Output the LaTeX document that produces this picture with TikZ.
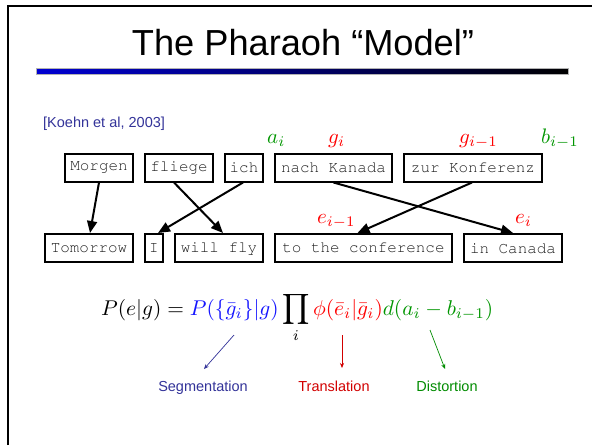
\documentclass[tikz,border=0pt]{standalone}
\usepackage{graphicx}
\usepackage{fontspec}
\setmainfont{Liberation Sans}
\newcommand{\courierfont}{\fontencoding{OT1}\fontfamily{pcr}\selectfont}
\usetikzlibrary{arrows.meta,calc}
\definecolor{kblue}{RGB}{51,51,153}
\definecolor{fblue}{RGB}{20,20,255}
\definecolor{fred}{RGB}{255,0,0}
\definecolor{fgreen}{RGB}{0,150,0}
\definecolor{lred}{RGB}{210,0,0}
\definecolor{lgreen}{RGB}{0,140,0}
\begin{document}
\begin{tikzpicture}[x=1pt,y=-1pt,
  wbox/.style={draw=black,line width=2pt,inner sep=0pt,minimum height=28pt,
    font=\courierfont\fontsize{15.9}{16}\selectfont,text=black!88},
  link/.style={line width=2pt,-{Triangle[length=12pt,width=10pt]}},
  lab/.style={anchor=base west,inner sep=0pt},
  note/.style={line width=0.7pt,-{Stealth[length=5pt,width=4pt]}},
  caplabel/.style={anchor=base,inner sep=0pt,font=\fontsize{14.5}{16}\selectfont}
]
\useasboundingbox (0,0) rectangle (592,445);
\fill[white] (0,0) rectangle (592,445);
\draw[line width=2pt] (7.5,445) -- (7.5,5.5) -- (592,5.5);
% title
\node[font=\fontsize{36.2}{40}\selectfont,inner sep=0pt,anchor=base] (title) at (303,55) {The Pharaoh “Model”};
\shade[left color={rgb,255:red,0;green,0;blue,210},right color=black] (36,68) rectangle (568,74);
\draw[gray!60,line width=0.6pt] (36,68) rectangle (568,74);
% reference
\node[lab,text=kblue,font=\fontsize{14.5}{16}\selectfont] (ref) at (43,127) {[Koehn et al, 2003]};
% German
\node[wbox,minimum width=68pt] (morgen) at (99,167.5) {Morgen};
\node[wbox,minimum width=68pt] (fliege) at (179,167.5) {fliege};
\node[wbox,minimum width=38pt] (ich) at (244,167.5) {ich};
\node[wbox,minimum width=117pt] (nach) at (333.5,167.5) {nach Kanada};
\node[wbox,minimum width=138pt] (zur) at (473,167.5) {zur Konferenz};
% English
\node[wbox,minimum width=88pt] (tomorrow) at (89,248) {Tomorrow};
\node[wbox,minimum width=18pt] (I) at (154,248) {I};
\node[wbox,minimum width=88pt] (willfly) at (219,248) {will fly};
\node[wbox,minimum width=177pt] (conf) at (363.5,248) {to the conference};
\node[wbox,minimum width=98pt] (canada) at (513,248) {in Canada};
% alignment arrows
\draw[link] (morgen.south) -- ([xshift=1pt]tomorrow.north);
\draw[link] ([xshift=-5pt]fliege.south) -- ([xshift=4pt]willfly.north);
\draw[link] ([xshift=-1pt]ich.south) -- ([xshift=4pt]I.north);
\draw[link] (nach.south) -- (canada.north);
\draw[link] ([xshift=-1pt]zur.south) -- ([xshift=-6pt]conf.north);
% labels
\node[lab,text=fgreen] (ai) at (267,143) {\scalebox{2.1}{$a_i$}};
\node[lab,text=fred] (gi) at (328,143) {\scalebox{2.1}{$g_i$}};
\node[lab,text=fred] (gim) at (459,143) {\scalebox{2.1}{$g_{i-1}$}};
\node[lab,text=fgreen] (bim) at (541,143) {\scalebox{2.1}{$b_{i-1}$}};
\node[lab,text=fred] (eim) at (317,223) {\scalebox{2.1}{$e_{i-1}$}};
\node[lab,text=fred] (ei) at (515,223) {\scalebox{2.1}{$e_i$}};
% formula
\node[lab] (formula) at (101,315) {\resizebox{392pt}{!}{$\displaystyle P(e|g) = {\color{fblue}P(\{\bar g_i\}|g)}\prod_i {\color{fred}\phi(\bar e_i|\bar g_i)}{\color{fgreen}d(a_i-b_{i-1})}$}};
% captions
\node[caplabel,text=kblue] (seg) at (203,391) {Segmentation};
\node[caplabel,text=lred] (trans) at (334,391) {Translation};
\node[caplabel,text=lgreen] (dist) at (447,391) {Distortion};
\coordinate (s1) at (234,335);
\coordinate (s2) at (204,369);
\coordinate (t1) at (342,335);
\coordinate (t2) at (342,368);
\coordinate (d1) at (430,330);
\coordinate (d2) at (445,369);
\draw[note,kblue] (s1) -- (s2);
\draw[note,lred] (t1) -- (t2);
\draw[note,lgreen] (d1) -- (d2);
\end{tikzpicture}
\end{document}
